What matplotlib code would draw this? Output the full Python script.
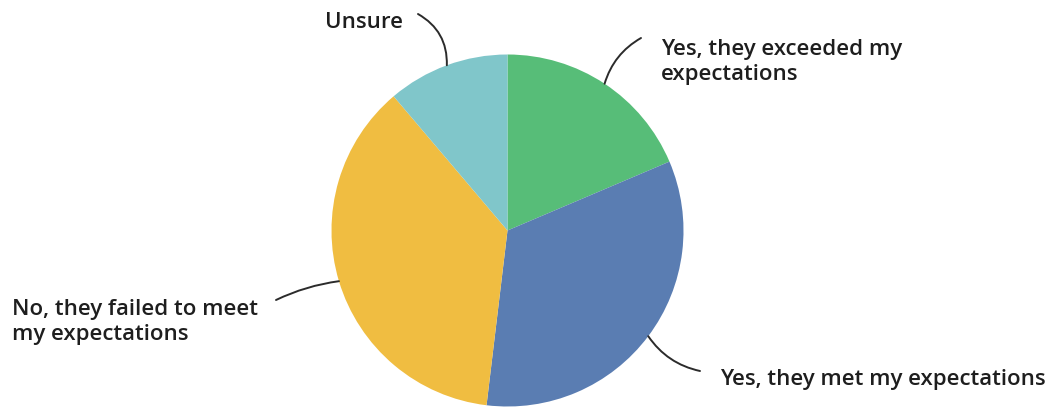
import numpy as np
import matplotlib
matplotlib.use("Agg")
import matplotlib.pyplot as plt

labels = ["Yes, they exceeded my\nexpectations",
          "Yes, they met my expectations",
          "No, they failed to meet\nmy expectations",
          "Unsure"]
shares = [18.6, 33.3, 36.9, 11.2]
colors = ["#57bd78", "#5a7db2", "#f0bd41", "#80c6ca"]

W, H = 1052, 410
fig = plt.figure(figsize=(W / 100, H / 100), dpi=100)
ax = fig.add_axes([0, 0, 1, 1])

cx, cy, r = 507.5, H - 231.5, 176
wedges, _ = ax.pie(shares, colors=colors, startangle=90, counterclock=False,
                   center=(cx, cy), radius=r, wedgeprops=dict(linewidth=0))
ax.set_xlim(0, W)
ax.set_ylim(0, H)
ax.set_aspect("equal")
ax.axis("off")

# label text position, end of leader line, curvature
layout = [
    ((661, 62), (641, 39), 0.2),
    ((720, 380), (700, 372), -0.2),
    ((12, 322), (276, 301), -0.08),
    ((325, 22), (418, 15), -0.3),
]

for w, lab, (tpos, lend, rad) in zip(wedges, labels, layout):
    mid = np.deg2rad((w.theta1 + w.theta2) / 2)
    edge = (cx + r * np.cos(mid), cy + r * np.sin(mid))
    ax.annotate("", xy=edge, xytext=(lend[0], H - lend[1]),
                arrowprops=dict(arrowstyle="-", color="#2b2b2b", lw=1.4,
                                shrinkA=0, shrinkB=0,
                                connectionstyle="arc3,rad=%s" % rad))
    ax.text(tpos[0], H - tpos[1], lab, ha="left", va="center", fontsize=16,
            family="Open Sans", weight="semibold", color="#1e1e1e",
            linespacing=1.2)

fig.savefig("out.png", dpi=100)
